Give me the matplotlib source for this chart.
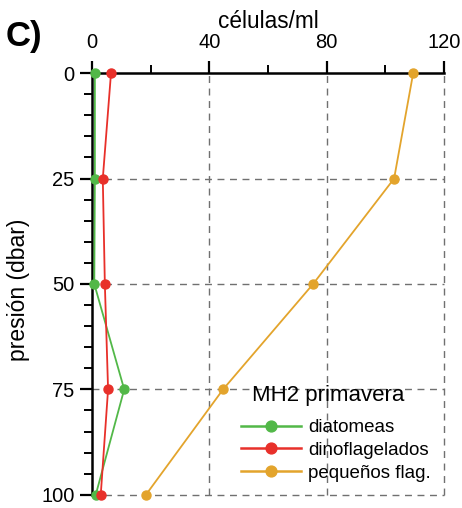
import matplotlib.pyplot as plt

plt.rcParams["font.family"] = ["Liberation Sans", "DejaVu Sans"]

# datos
presion = [0, 25, 50, 75, 100]
diatomeas = [1, 1, 0.8, 11, 1.3]
dinoflagelados = [6.5, 3.7, 4.4, 5.5, 3]
pequenos_flag = [109.5, 103, 75.4, 44.7, 18.4]

series = [
    ("diatomeas", diatomeas, "#52b848"),
    ("dinoflagelados", dinoflagelados, "#e8302a"),
    ("pequeños flag.", pequenos_flag, "#e3a42c"),
]

fig = plt.figure(figsize=(4.62, 5.08), dpi=100)
ax = fig.add_axes([0.199, 0.026, 0.762, 0.83])

# grid a mano para que no se recorte en los bordes
for xv in [40, 80, 120]:
    ax.axvline(xv, color="#707070", ls=(0, (5, 4)), lw=1, clip_on=False, zorder=1)
for yv in [25, 50, 75, 100]:
    ax.axhline(yv, color="#707070", ls=(0, (5, 4)), lw=1, clip_on=False, zorder=1)

for nombre, valores, color in series:
    ax.plot(valores, presion, color=color, lw=1.3, marker="o", ms=6.5,
            label=nombre, zorder=3, clip_on=False)

ax.set_xlim(0, 120)
ax.set_ylim(100, 0)
ax.set_xticks([0, 40, 80, 120])
ax.set_xticks([20, 60, 100], minor=True)
ax.set_yticks([0, 25, 50, 75, 100])
ax.set_yticks(range(0, 101, 5), minor=True)

ax.xaxis.tick_top()
ax.xaxis.set_label_position("top")
ax.spines["right"].set_visible(False)
ax.spines["bottom"].set_visible(False)
ax.spines["left"].set_linewidth(1.8)
ax.spines["top"].set_linewidth(1.8)
ax.tick_params(axis="both", which="major", length=9, width=1.6, labelsize=14.5, direction="out")
ax.tick_params(axis="both", which="minor", length=5.5, width=1.4, direction="out")
ax.tick_params(axis="x", which="major", pad=6)

ax.set_xlabel("células/ml", fontsize=16.3, labelpad=4)
ax.set_ylabel("presión (dbar)", fontsize=16.5)
ax.yaxis.set_label_coords(-0.175, 0.485)

fig.text(0.012, 0.91, "C)", fontsize=25, fontweight="bold")

leg = ax.legend(title="MH2 primavera", loc="lower right", bbox_to_anchor=(1.0, 0.0),
                frameon=False, fontsize=13.5, title_fontsize=16, handlelength=3.2,
                borderaxespad=0.3, labelspacing=0.3, handletextpad=0.4,
                markerscale=1.2)
leg.get_title().set_position((-8, 7))
for linea in leg.get_lines():
    linea.set_linewidth(1.8)

fig.savefig("out.png", dpi=100)
